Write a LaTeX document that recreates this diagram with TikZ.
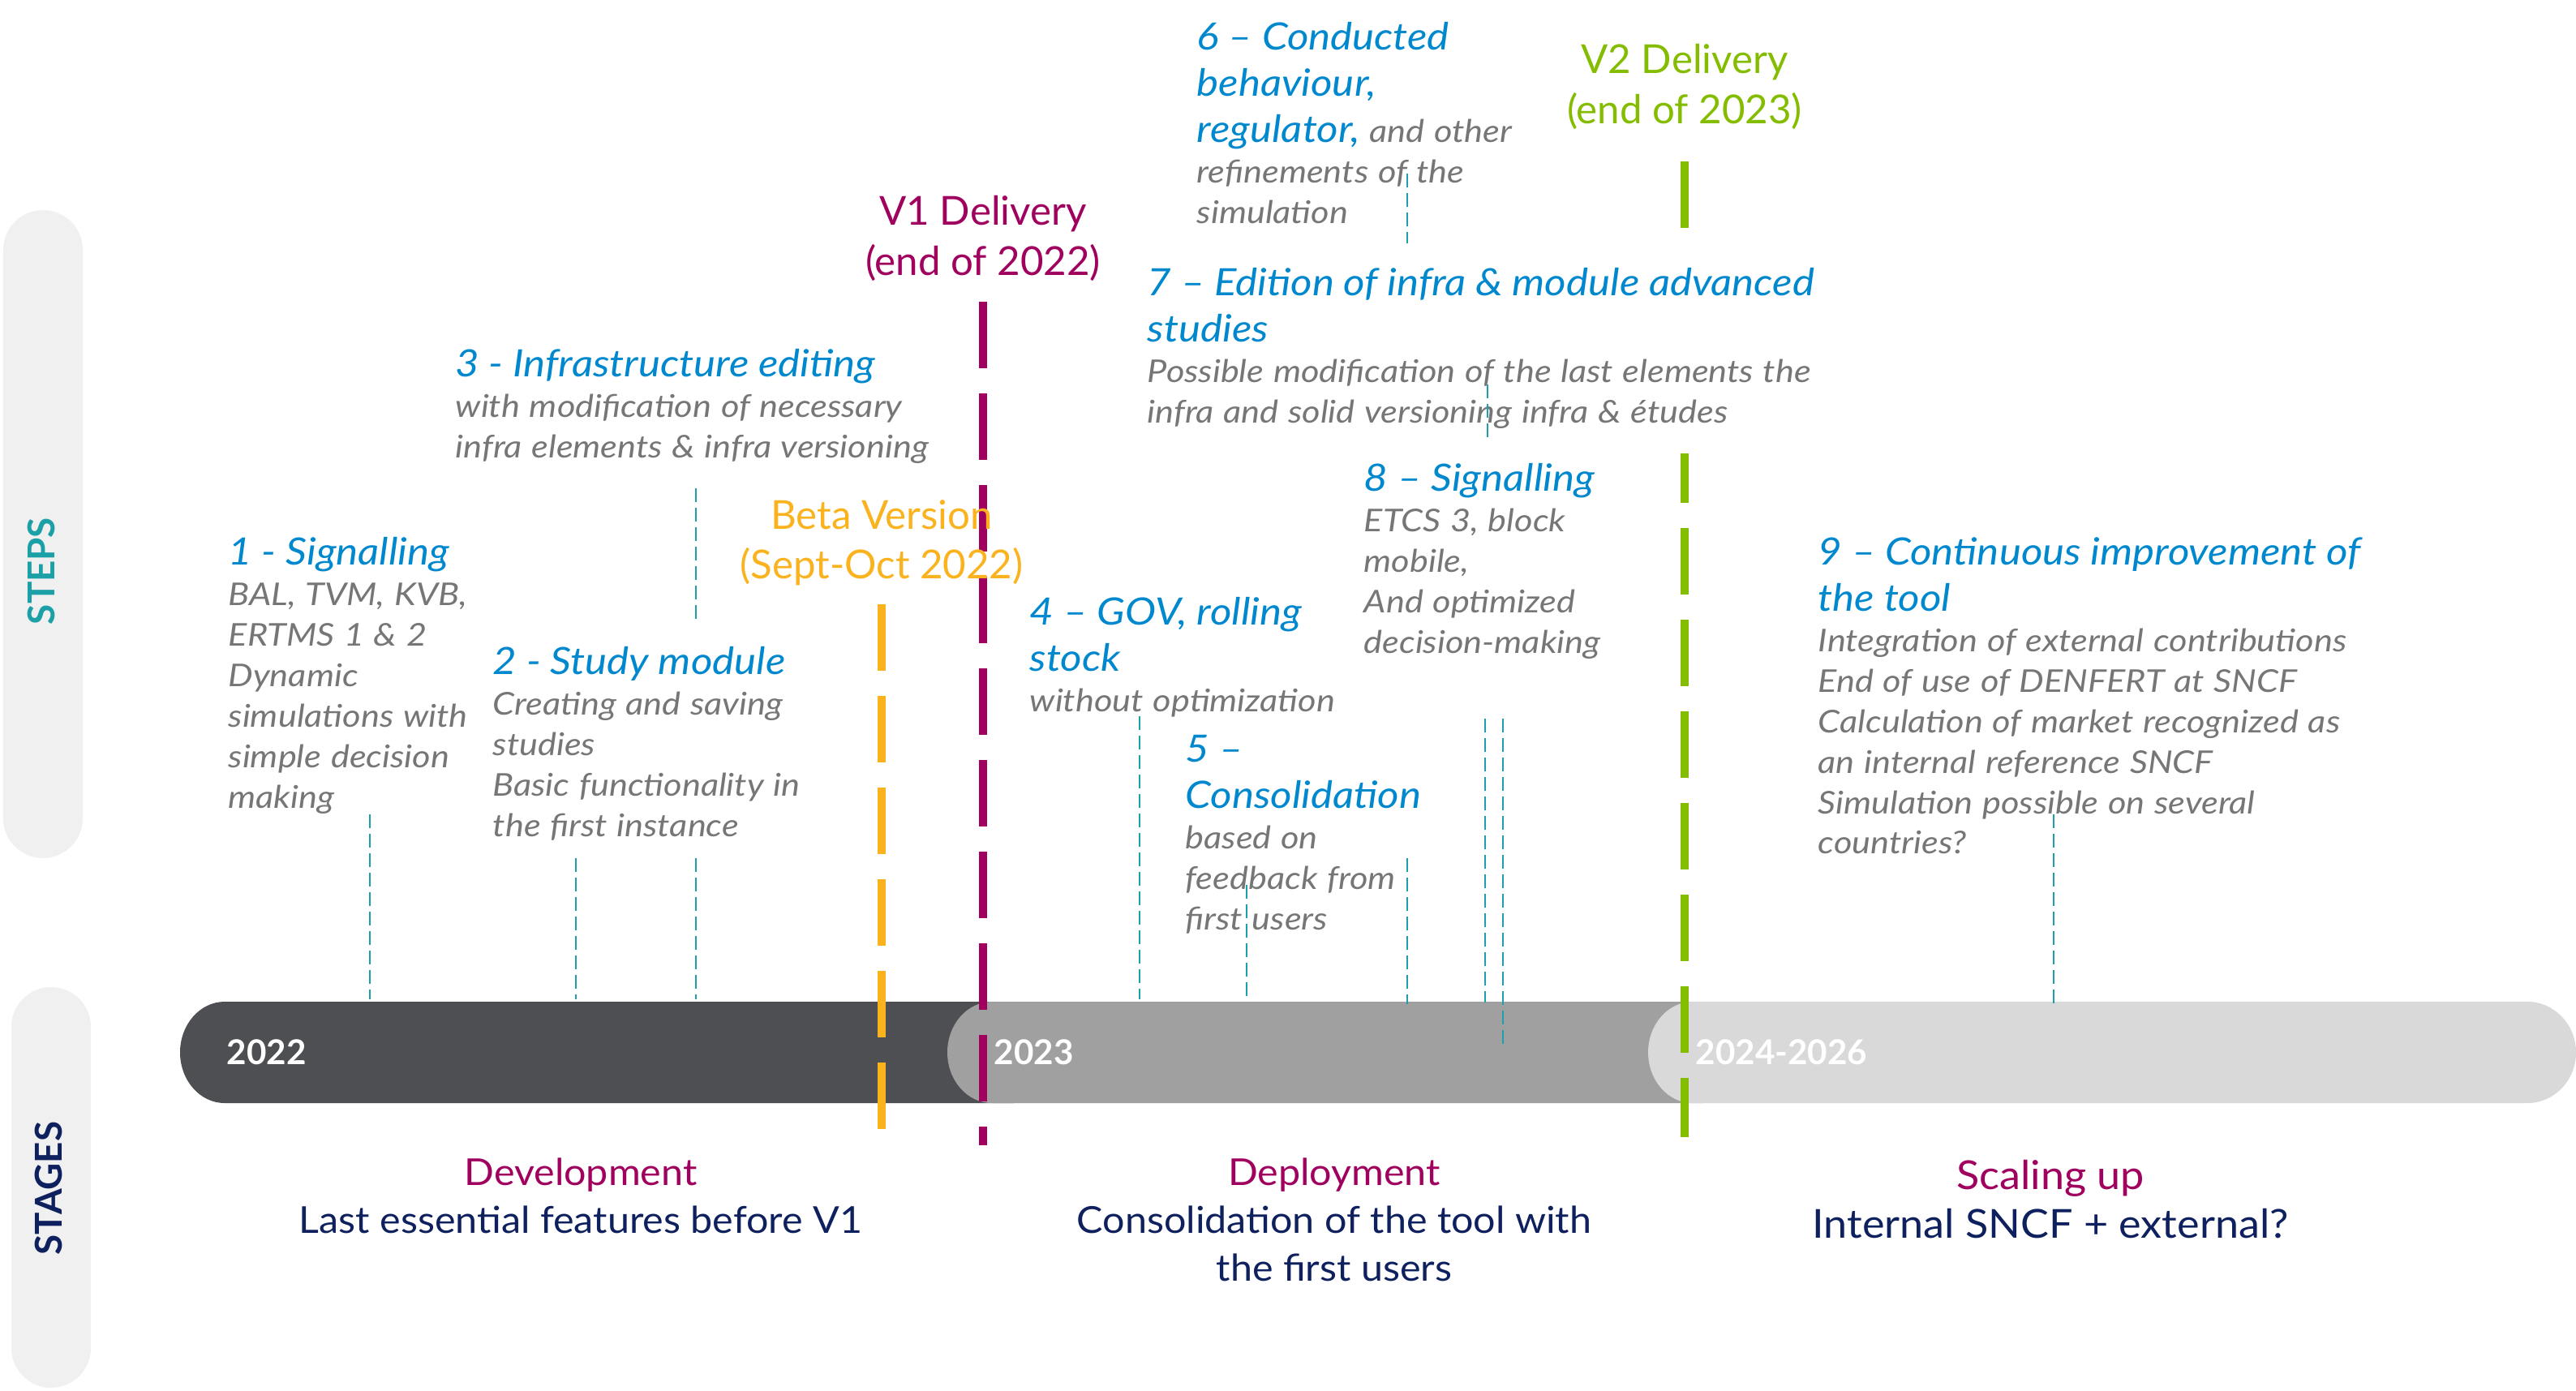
\documentclass[tikz,border=0pt]{standalone}
\usepackage{fontspec}
\setmainfont{Lato}
\newfontfamily\titlefam{Lato}[FakeStretch=1.1, Ligatures=TeX]
\newfontfamily\bodyfam{Lato}[FakeStretch=1.12, Ligatures=TeX]
\newfontfamily\stagefam{Lato}[FakeStretch=1.06, Ligatures=TeX]
\usetikzlibrary{positioning}

\definecolor{stepblue}{HTML}{0088CE}
\definecolor{bodygrey}{HTML}{767676}
\definecolor{linkteal}{HTML}{1F9FAE}
\definecolor{stepsteal}{HTML}{1AA0A6}
\definecolor{vmagenta}{HTML}{A0005E}
\definecolor{betaorange}{HTML}{FAB31E}
\definecolor{vgreen}{HTML}{84BC00}
\definecolor{stagenavy}{HTML}{0E205E}
\definecolor{bardark}{HTML}{4E4F53}
\definecolor{barmid}{HTML}{A0A0A0}
\definecolor{barlight}{HTML}{D9D9D9}
\definecolor{sidegrey}{HTML}{F0F0F0}

\newcommand{\steptitle}[1]{{\color{stepblue}\titlefam\fontsize{13.2}{16.2}\selectfont\itshape #1\par}}
\newcommand{\stepbody}[1]{{\color{bodygrey}\bodyfam\fontsize{11}{14.2}\selectfont\itshape #1\par}}

\tikzset{
  stepnode/.style={anchor=north west, inner sep=0pt, text width=9cm, align=left},
  delivery/.style={anchor=north, inner sep=0pt, align=center, font=\fontsize{14}{17.4}\selectfont},
  stagelbl/.style={anchor=north, inner sep=0pt, align=center, font=\stagefam\fontsize{13}{16.8}\selectfont},
  yearlbl/.style={anchor=west, inner sep=0pt, text=white, font=\fontsize{12}{12}\selectfont\bfseries},
  sidelbl/.style={rotate=90, inner sep=0pt, font=\fontsize{13}{13}\selectfont\bfseries},
  deliv/.style={line width=0.1cm, dash pattern=on 0.82cm off 0.31cm},
  link/.style={linkteal, line width=0.6pt, dash pattern=on 0.17cm off 0.07cm}
}

\begin{document}
\begin{tikzpicture}
\useasboundingbox (0,0) rectangle (31.76,-17.14);

% side bands
\fill[sidegrey, rounded corners=0.49cm] (0.04,-2.59) rectangle (1.02,-10.58);
\fill[sidegrey, rounded corners=0.49cm] (0.14,-12.17) rectangle (1.12,-17.11);
\node[sidelbl, text=stepsteal] (stepslbl) at (0.51,-7.04) {STEPS};
\node[sidelbl, text=stagenavy] (stageslbl) at (0.60,-14.65) {STAGES};

% timeline
\fill[bardark] (2.77,-12.35) -- (12.5,-12.35) -- (12.5,-13.60) -- (2.77,-13.60)
  arc[start angle=270, end angle=90, x radius=0.55, y radius=0.625] -- cycle;
\fill[barmid] (12.23,-12.35) -- (21.0,-12.35) -- (21.0,-13.60) -- (12.23,-13.60)
  arc[start angle=270, end angle=90, x radius=0.55, y radius=0.625] -- cycle;
\fill[barlight] (20.87,-12.35) -- (31.16,-12.35)
  arc[start angle=90, end angle=-90, x radius=0.6, y radius=0.625] -- (20.87,-13.60)
  arc[start angle=270, end angle=90, x radius=0.55, y radius=0.625] -- cycle;

\node[yearlbl] (y22) at (2.79,-12.97) {2022};
\node[yearlbl] (y23) at (12.25,-12.97) {2023};
\node[yearlbl] (y24) at (20.90,-12.97) {2024-2026};

% deliveries
\coordinate (betatop) at (10.87,-7.45);
\coordinate (betabot) at (10.87,-13.94);
\coordinate (v1top) at (12.12,-3.72);
\coordinate (v1bot) at (12.12,-14.12);
\coordinate (v2top) at (20.77,-1.99);
\coordinate (v2bot) at (20.77,-14.02);
\draw[deliv, betaorange] (betatop) -- (betabot);
\draw[deliv, vmagenta] (v1top) -- (v1bot);
\draw[deliv, vgreen] (v2top) -- (v2bot);

\node[delivery, text=betaorange] (beta) at (10.87,-6.16) {Beta Version\\(Sept-Oct 2022)};
\node[delivery, text=vmagenta] (v1) at (12.12,-2.41) {V1 Delivery\\(end of 2022)};
\node[delivery, text=vgreen] (v2) at (20.77,-0.54) {V2 Delivery\\(end of 2023)};

% steps
\node[stepnode] (s1) at (2.81,-6.62) {\steptitle{1 - Signalling}\stepbody{BAL, TVM, KVB,\\ERTMS 1 \& 2\\Dynamic\\simulations with\\simple decision\\making}};
\node[stepnode] (s2) at (6.07,-7.97) {\steptitle{2 - Study module}\stepbody{Creating and saving\\studies\\Basic functionality in\\the first instance}};
\node[stepnode] (s3) at (5.61,-4.30) {\steptitle{3 - Infrastructure editing}\stepbody{with modification of necessary\\infra elements \& infra versioning}};
\node[stepnode] (s4) at (12.69,-7.36) {\steptitle{4 – GOV, rolling\\stock}\stepbody{without optimization}};
\node[stepnode] (s5) at (14.61,-9.06) {\steptitle{5 –\\Consolidation}\stepbody{based on\\feedback from\\first users}};
\node[stepnode] (s6) at (14.75,-0.27) {{\color{stepblue}\titlefam\fontsize{13.2}{16.2}\selectfont\itshape 6 – Conducted\\behaviour,\\regulator,{\color{bodygrey}\bodyfam\fontsize{11}{14.2}\selectfont\itshape\ and other}\par}\stepbody{refinements of the\\simulation}};
\node[stepnode, fill=white, inner ysep=0.3cm] (s7) at (14.14,-3.00) {\steptitle{7 – Edition of infra \& module advanced\\studies}\stepbody{Possible modification of the last elements the\\infra and solid versioning infra \& études}};
\node[stepnode] (s8) at (16.81,-5.71) {\steptitle{8 – Signalling}\stepbody{ETCS 3, block\\mobile,\\And optimized\\decision-making}};
\node[stepnode] (s9) at (22.41,-6.62) {\steptitle{9 – Continuous improvement of\\the tool}\stepbody{Integration of external contributions\\End of use of DENFERT at SNCF\\Calculation of market recognized as\\an internal reference SNCF\\Simulation possible on several\\countries?}};

% stages
\node[stagelbl] (dev) at (7.16,-14.27) {{\color{vmagenta}Development}\\{\color{stagenavy}Last essential features before V1}};
\node[stagelbl] (dep) at (16.45,-14.27) {{\color{vmagenta}Deployment}\\{\color{stagenavy}Consolidation of the tool with}\\{\color{stagenavy}the first users}};
\node[stagelbl, font=\stagefam\fontsize{14}{16.8}\selectfont] (scal) at (25.28,-14.30) {{\color{vmagenta}Scaling up}\\{\color{stagenavy}Internal SNCF + external?}};

% links to the timeline
\coordinate (l1a) at (4.56,-10.04);  \coordinate (l1b) at (4.56,-12.32);
\coordinate (l2a) at (7.10,-10.58);  \coordinate (l2b) at (7.10,-12.32);
\coordinate (l3a) at (8.58,-6.02);   \coordinate (l3b) at (8.58,-7.65);
\coordinate (l3c) at (8.58,-10.58);  \coordinate (l3d) at (8.58,-12.32);
\coordinate (l4a) at (14.05,-8.83);  \coordinate (l4b) at (14.05,-12.32);
\coordinate (l5a) at (15.37,-10.91); \coordinate (l5b) at (15.37,-12.28);
\coordinate (l6a) at (17.35,-2.14);  \coordinate (l6b) at (17.35,-3.00);
\coordinate (l6c) at (17.35,-10.58); \coordinate (l6d) at (17.35,-12.38);
\coordinate (l7a) at (18.34,-4.74);  \coordinate (l7b) at (18.34,-5.42);
\coordinate (l7c) at (18.31,-8.86);  \coordinate (l7d) at (18.31,-12.36);
\coordinate (l8a) at (18.53,-8.86);  \coordinate (l8b) at (18.53,-12.92);
\coordinate (l9a) at (25.32,-10.04); \coordinate (l9b) at (25.32,-12.40);

\draw[link] (l1a) -- (l1b);
\draw[link] (l2a) -- (l2b);
\draw[link] (l3a) -- (l3b);
\draw[link] (l3c) -- (l3d);
\draw[link] (l4a) -- (l4b);
\draw[link] (l5a) -- (l5b);
\draw[link] (l6a) -- (l6b);
\draw[link] (l6c) -- (l6d);
\draw[link] (l7a) -- (l7b);
\draw[link] (l7c) -- (l7d);
\draw[link] (l8a) -- (l8b);
\draw[link] (l9a) -- (l9b);

\end{tikzpicture}
\end{document}
